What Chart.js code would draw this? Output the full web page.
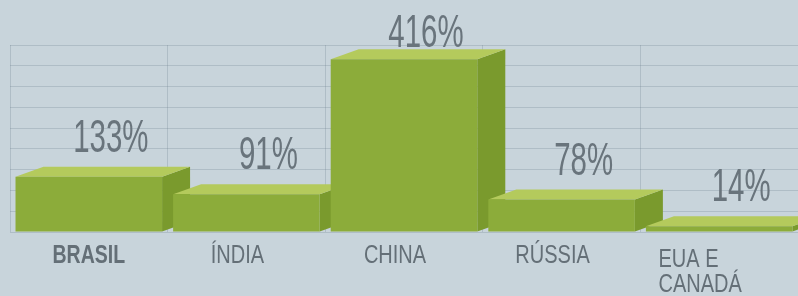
<!DOCTYPE html>
<html>
<head>
<meta charset="utf-8">
<script src="https://cdn.jsdelivr.net/npm/chart.js@4.4.0/dist/chart.umd.min.js"></script>
<style>
    html, body { margin: 0; padding: 0; background: #c8d4db; }
    #wrap { width: 798px; height: 296px; position: relative; }
</style>
</head>
<body>
<div id="wrap"><canvas id="chart"></canvas></div>
<script>
// Crescimento por região (%)
const categories = ['BRASIL', 'ÍNDIA', 'CHINA', 'RÚSSIA', ['EUA E', 'CANADÁ']];
const values = [133, 91, 416, 78, 14];
const valueLabels = ['133%', '91%', '416%', '78%', '14%'];

const DEPTH_X = 28;
const DEPTH_Y = -10;
const FONT = '"Liberation Sans", Arial, sans-serif';

// draw text squeezed horizontally (the print uses a condensed face)
function drawNarrow(ctx, text, x, y, squeeze, align) {
    ctx.save();
    ctx.translate(x, y);
    ctx.scale(squeeze, 1);
    ctx.textAlign = align || 'center';
    ctx.fillText(text, 0, 0);
    ctx.restore();
}

// Side and top faces go under the fronts, so the next bar covers them
const bar3d = {
    id: 'bar3d',
    beforeDatasetsDraw(chart) {
        const ctx = chart.ctx;
        const bars = chart.getDatasetMeta(0).data;
        ctx.save();
        bars.forEach(bar => {
            const left = bar.x - bar.width / 2;
            const right = bar.x + bar.width / 2;
            const top = bar.y;
            const base = bar.base;

            // side
            ctx.fillStyle = '#7a9a2d';
            ctx.beginPath();
            ctx.moveTo(right, top);
            ctx.lineTo(right + DEPTH_X, top + DEPTH_Y);
            ctx.lineTo(right + DEPTH_X, base + DEPTH_Y);
            ctx.lineTo(right, base);
            ctx.closePath();
            ctx.fill();

            // top
            ctx.fillStyle = '#b4ca5c';
            ctx.beginPath();
            ctx.moveTo(left, top);
            ctx.lineTo(left + DEPTH_X, top + DEPTH_Y);
            ctx.lineTo(right + DEPTH_X, top + DEPTH_Y);
            ctx.lineTo(right, top);
            ctx.closePath();
            ctx.fill();
        });
        ctx.restore();
    },
    afterDatasetsDraw(chart) {
        const ctx = chart.ctx;
        const bars = chart.getDatasetMeta(0).data;
        const xScale = chart.scales.x;
        ctx.save();
        ctx.textBaseline = 'alphabetic';

        // value labels
        ctx.font = '46px ' + FONT;
        ctx.fillStyle = '#69747c';
        bars.forEach((bar, i) => {
            const y = Math.max(bar.y + DEPTH_Y - 15, 47);
            drawNarrow(ctx, valueLabels[i], bar.x + 22, y, 0.64);
        });

        // category labels, a bit left of the category centre like the print
        ctx.fillStyle = '#646f77';
        categories.forEach((cat, i) => {
            const cx = xScale.getPixelForValue(i) - (i === 0 ? 0 : 9);
            ctx.font = (i === 0 ? 'bold ' : '') + '25px ' + FONT;
            if (Array.isArray(cat)) {
                const widest = Math.max(...cat.map(s => ctx.measureText(s).width)) * 0.8;
                cat.forEach((line, j) => {
                    drawNarrow(ctx, line, cx - widest / 2 - 10, 267 + j * 25, 0.8, 'left');
                });
            } else {
                drawNarrow(ctx, cat, cx, 263, i === 0 ? 0.78 : 0.8);
            }
        });
        ctx.restore();
    }
};

new Chart(document.getElementById('chart'), {
    type: 'bar',
    data: {
        labels: categories,
        datasets: [{
            data: values,
            backgroundColor: '#8cac3a',
            borderWidth: 0,
            categoryPercentage: 1,
            barPercentage: 0.93
        }]
    },
    options: {
        responsive: true,
        maintainAspectRatio: false,
        animation: false,
        layout: {
            padding: { top: 45, left: 10, right: 0, bottom: 0 }
        },
        plugins: {
            legend: { display: false },
            tooltip: { enabled: false }
        },
        scales: {
            x: {
                grid: {
                    offset: true,
                    color: 'rgba(110, 130, 145, 0.28)',
                    drawTicks: false
                },
                border: { display: false },
                ticks: { display: false },
                afterFit: scale => { scale.height = 64; }
            },
            y: {
                min: 0,
                max: 450,
                ticks: { display: false, stepSize: 50 },
                grid: {
                    color: 'rgba(110, 130, 145, 0.28)',
                    drawTicks: false
                },
                border: { display: false },
                afterFit: scale => { scale.width = 0; }
            }
        }
    },
    plugins: [bar3d]
});
</script>
</body>
</html>
